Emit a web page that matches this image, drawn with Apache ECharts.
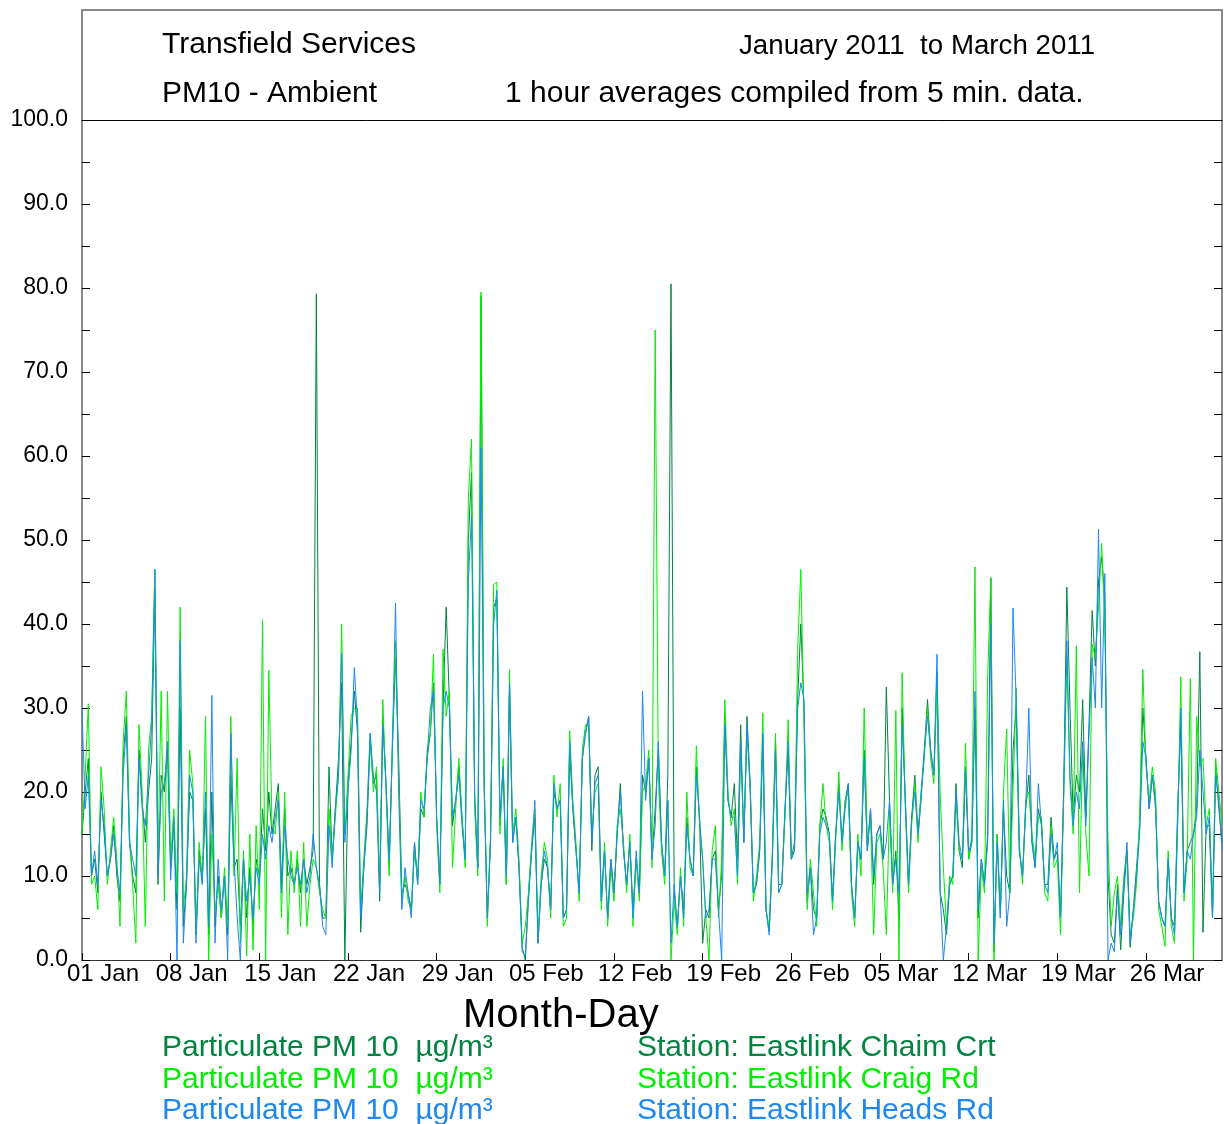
<!DOCTYPE html>
<html><head><meta charset="utf-8">
<script src="https://cdn.jsdelivr.net/npm/echarts@6/dist/echarts.min.js"></script>
<style>html,body{margin:0;padding:0;background:#fff}#c{width:1224px;height:1124px}</style>
</head><body><div id="c"></div>
<script>
const STEPS_PER_DAY = 4;               // readings per day
const START = Date.UTC(2011, 0, 1);    // 01 Jan 2011
const MONTHS = ['Jan','Feb','Mar','Apr'];
const X_MAX_DAYS = 90;
const X_TICK_DAYS = 7;
const Y_MAX = 100;
const Y_TICK = 5;

const stationNames = ['Eastlink Chaim Crt', 'Eastlink Craig Rd', 'Eastlink Heads Rd'];
const stationColors = ['#00843f', '#00ee00', '#1e88f0'];
const unitLabel = 'Particulate PM 10  µg/m³';

const chaimCrt = [
15,20,24,10, 12,8,20,15, 10,12,16,10, 7,24,29,14, 10,8,25,19, 14,20,24,44, 9,22,20,25, 11,16,6,30,
4,9,20,19, 3,13,10,18, 3,20,4,10, 5,10,3,22, 11,12,4,12, 5,11,4,12, 10,18,13,20, 15,18,21,9,
18,10,11,9, 12,8,12,9, 11,13,79.3,9, 5,5,23,12, 18,24,33,0, 21,26,32,27, 3.3,11,16,26, 21,22,7,29,
21,11,25,36, 24,8,9,8, 6,14,9,18, 17,24,27,33, 17,9,30,42, 31,16,19,23, 17,12,50,58, 19,11,79,21,
5,14,42,43, 16,23,9,32, 14,17,11,1.5, 0,8,13,17, 2,9,12,11, 6,20,18,19, 5,6,25,18, 13,8,24,27,
29,13,22,23, 7,13,5,12, 8,15,21,13, 9,14,6,12, 8,22,20,24, 12,18,25,14, 10,22,80.5,8, 4,10,6,17,
12,10,23,17, 2,6,5,12, 13,6,10,29, 19,17,21,12, 28,14,29,21, 8,9,13,26, 6,3.5,12,26, 9,9,18,25,
12,14,31,40, 30,7,11,6, 5,16,18,17, 15,7,15,21, 14,19,21,9, 5,14,12,25, 13,18,9,15, 16,12,32.5,19,
9,13,5,30, 19,9,17,22, 15,20,25,31, 25,22,34.3,8, 6,3,9,10, 21,13,11,23, 12,14,30,5, 12,9,15,45.5,
1,15,6,18, 10,8,25,30, 13,10,18,22, 14,11,18,16, 9,9,17,12, 13,5,20,44.4, 30,17,22,20, 31,17,28,41.6,
35,45,48,43, 10,3,2,9, 1.2,8,13,1.5, 6,11,16,30, 24,18,22,19, 7,5,4,12, 5,4,18,28, 8,13,14,15,
18,36.7,3.3,16, 16,5,23,18, 14
];

const craigRd = [
15,22,30.5,9, 10,6,23,18, 9,13,17,12, 4,26,32,15, 9,2,28,20, 4,25,29,46.5, 12,32,7,32, 12,18,8,42,
6,10,25,21, 3,14,9,29, 0,15,6,9, 5,11,4,29, 10,24,2,13, 0.5,15,1.2,16, 6,40.5,0,34.5, 16,15,20,5,
20,3,13,8, 13,4,14,4, 9,12,11,8, 6,5,18,12, 17,22,40,15, 22,29,30,30, 6,12,18,27, 20,23,9,31,
20,10,26,38, 22,7,10,7, 6,13,10,20, 17,25,27,36.4, 16,8,37,29, 32,11,18,24, 17,11,55,62, 18,10,79.5,22,
4,15,44.7,45, 15,24,9,34.6, 15,18,12,2, 4,8,14,18, 3,10,14,12, 5,22,17,21, 4,5,27.3,19, 14,7,25,28,
28,15,20,21, 6,14,4,11, 7,16,18,14, 8,15,4,12, 7,20,21,25, 11,75,22,13, 9,19,0,7, 3,11,4,20,
11,10,25.5,16, 12,5,0,13, 16,5,12,31, 20,16,18,9, 25,15,27,21, 7,10,14,29.4, 6,4,13,27, 8,9,17,28.6,
12,13,37,46.5, 28,6,12,8, 4,16,21,16, 14,6,14,22.4, 13,19,20,8, 4,15,10,30, 14,17,3,14, 15,11,3,18,
8,29.7,0,34.2, 18,8,16,21, 14,20,24,30, 24,21,33,20, 11,4,10,9, 19,13,12,25.8, 12,15,46.8,0, 11,8,33.7,45.5,
0,15,5,20, 27.5,8,20,32.4, 14,9,19,20, 15,12,17,17, 8,7,16,11, 12,3,19,36, 21,15,37.4,8, 25,15,10,37.6,
36,42,49.6,40, 14,4,8,10, 4,10,13,3, 5,9,17,34.6, 23,19,23,20, 6,4,1.6,13, 4,2,16,33.7, 7,12,33.5,0,
29,23,24,16, 18,6,24,20, 16
];

const headsRd = [
30,18,22,10, 13,9,19,16, 10,12,15,11, 8,22,28,14, 12,10,24,18, 16,22,28,46.5, 10,20,21,26, 9.5,17,0,38,
2,9,22,20, 2,12,9,20, 4,31.5,2,12, 6,10,0,27, 12,5,0,12, 7,10,5,11, 9,15,12,16, 14,17,19,8,
16,12,10,9, 11,9,12,8, 10,15,11,9, 4,3,16,11, 18,22,36.5,14, 20,25,34.8,28, 5,11,17,27, 22,20,8,28,
21,12,25,42.5, 20,6,11,8, 5,14,9,19, 18,24,30,32, 17,9,30,32, 30,17,19,22, 16,12,45,53, 20,11,61,20,
5,14,40,44, 17,23,10,33, 14,17,11,1, 0.5,7,13,19, 2,9,13,11, 6,21,18,19, 5,6,26,18, 13,8,24,27,
29,14,21,22, 7,13,5,12, 8,15,20,13, 9,14,5,13, 8,32,19,24, 12,16,26,14, 10,19,2,9, 4,10,5,16,
12,10,22,17, 12,5,6,12, 12,6,0,28, 19,17,17,10, 26,14,28,20, 8,9,13,27, 6,3,12,25, 8,9,18,26,
12,13,30,33, 31,8,11,3, 5,15,17,16, 15,7,15,20, 14,18,21,9, 5,14,12,24, 13,18,10,15, 16,12,14,19,
9,12,8,28, 19,9,17,20, 15,19,25,29, 25,22,36.4,8, 0,4,9,10, 20,14,12,22.6, 13,14,32,6, 12,9,14,40,
2,14,5,19, 4,8,41.9,31, 13,10,18,30, 14,11,21,16, 9,8,15,12, 14,5,20,38, 22,16,20,18, 26,16,27,36,
30,51.3,30,46, 0,2,1,8, 3,9,14,2, 6,10,15,26, 24,18,22,18, 7,5,4,12, 5,3,17,30, 8,13,12,15,
17,25,20,15, 17,5,22,19, 13
];

// ---- chart ----
const FONT = '"Liberation Sans", Arial, Helvetica, sans-serif';
const toPairs = vals => vals.map((v, i) => [i / STEPS_PER_DAY, v]);
const dayLabel = d => {
  const dt = new Date(START + d * 86400000);
  const dd = String(dt.getUTCDate()).padStart(2, '0');
  return dd + ' ' + MONTHS[dt.getUTCMonth()];
};
const seriesValues = [chaimCrt, craigRd, headsRd];

const chart = echarts.init(document.getElementById('c'), null, {renderer: 'canvas'});
const frameGray = '#8a8a8a';

const graphic = [
  {type: 'polyline', shape: {points: [[82,120],[82,10],[1222,10],[1222,120]]},
   style: {stroke: frameGray, lineWidth: 2, fill: null}, silent: true},
  {type: 'text', left: 162, top: 30, style: {text: 'Transfield Services', font: '30px ' + FONT, fill: '#000'}},
  {type: 'text', left: 162, top: 79, style: {text: 'PM10 - Ambient', font: '30px ' + FONT, fill: '#000'}},
  {type: 'text', left: 739, top: 32, style: {text: 'January 2011  to March 2011', font: '27.7px ' + FONT, fill: '#000'}},
  {type: 'text', left: 505, top: 79, style: {text: '1 hour averages compiled from 5 min. data.', font: '30px ' + FONT, fill: '#000'}},
  {type: 'text', left: 463, top: 996, style: {text: 'Month-Day', font: '40px ' + FONT, fill: '#000'}}
];
stationNames.forEach((name, k) => {
  const top = 1033 + k * 31.5;
  graphic.push({type: 'text', left: 162, top: top, style: {text: unitLabel, font: '30px ' + FONT, fill: stationColors[k]}});
  graphic.push({type: 'text', left: 637, top: top, style: {text: 'Station: ' + name, font: '30px ' + FONT, fill: stationColors[k]}});
});

const option = {
  animation: false,
  backgroundColor: '#fff',
  textStyle: {fontFamily: FONT},
  grid: {left: 82, right: 2, top: 120, bottom: 164, containLabel: false},
  xAxis: [{
    type: 'value', min: 0, max: X_MAX_DAYS, interval: X_TICK_DAYS,
    axisLine: {show: true, onZero: false, lineStyle: {color: '#333', width: 1}},
    axisTick: {show: true, inside: true, length: 7, lineStyle: {color: '#000'}},
    axisLabel: {show: true, formatter: v => dayLabel(v), fontSize: 24, color: '#000',
      margin: 2, align: 'center', padding: [0, 0, 0, 42], showMaxLabel: false, hideOverlap: false},
    splitLine: {show: false}
  }, {
    type: 'value', position: 'top', min: 0, max: X_MAX_DAYS,
    axisLine: {show: true, onZero: false, lineStyle: {color: '#000', width: 1}},
    axisTick: {show: false}, axisLabel: {show: false}, splitLine: {show: false}
  }],
  yAxis: [{
    type: 'value', min: 0, max: Y_MAX, interval: Y_TICK,
    axisLine: {show: true, onZero: false, lineStyle: {color: frameGray, width: 2}},
    axisTick: {show: true, inside: true, length: 8, lineStyle: {color: '#000'}},
    axisLabel: {formatter: v => (v % 10 === 0 ? v.toFixed(1) : ''), fontSize: 23, color: '#000',
      margin: 14, padding: [0, 0, 7, 0]},
    splitLine: {show: false}
  }, {
    type: 'value', position: 'right', min: 0, max: Y_MAX, interval: Y_TICK,
    axisLine: {show: true, onZero: false, lineStyle: {color: frameGray, width: 2}},
    axisTick: {show: true, inside: true, length: 8, lineStyle: {color: '#000'}},
    axisLabel: {show: false}, splitLine: {show: false}
  }],
  series: seriesValues.map((vals, k) => ({
    name: stationNames[k], type: 'line', xAxisIndex: 0, yAxisIndex: 0,
    data: toPairs(vals), showSymbol: false, symbol: 'none', smooth: false,
    lineStyle: {color: stationColors[k], width: 1}, itemStyle: {color: stationColors[k]},
    clip: true, z: 2 + k
  })),
  graphic: graphic
};
chart.setOption(option);
</script></body></html>
